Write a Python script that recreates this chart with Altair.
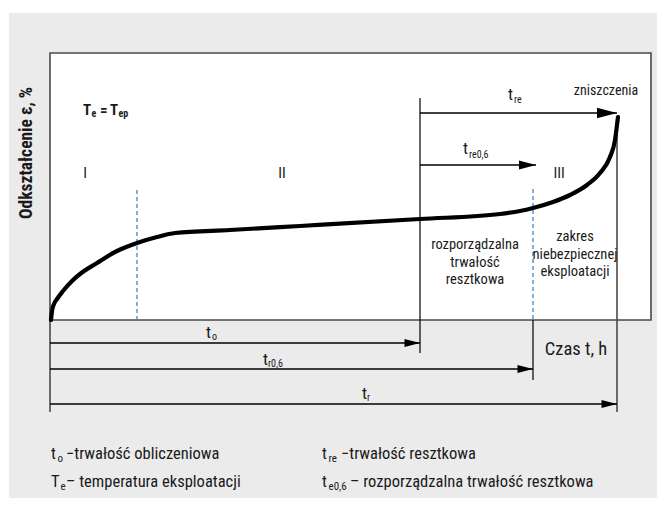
import altair as alt
import pandas as pd

# ---- diagram data (diagram units: x to the right, y downward) ----
curve_x = [51, 52, 54, 57, 63, 72, 80, 97, 117, 137, 157, 175, 230, 300, 420, 500,
           520, 533, 553, 570, 587, 600, 610, 615, 617, 618]
curve_y = [320, 311, 304, 299, 291, 281, 274, 263, 251, 243, 237, 233, 230, 226, 219, 214,
           211, 208, 202, 195, 185, 173, 157, 140, 125, 117]

panel_x = [9, 657]
panel_y = [13, 498]
box_x = [50, 651]
box_y = [53, 320]

# black thin verticals
vline_x = [420, 533]
vline_y1 = [98, 320]
vline_y2 = [353, 380]
# gray verticals (box edge extensions / failure line)
gline_x = [50, 617]
gline_y1 = [320, 118]
gline_y2 = [412, 412]
# blue dashed verticals
dline_x = [137, 533]
dline_y1 = [190, 189]
dline_y2 = [320, 320]

# arrows (start x, end x, y)
top_arrow_x1 = [420, 420]
top_arrow_x2 = [617, 536]
top_arrow_y = [113, 165]
bot_arrow_x1 = [50, 50, 50]
bot_arrow_x2 = [420, 533, 617]
bot_arrow_y = [343, 369, 404]

# labels
phase_txt = ["I", "II", "III"]
phase_x = [85, 282, 559]
phase_y = [178, 178, 178]

top_txt = ["zniszczenia"]
top_x = [606]
top_y = [95]

t_txt = ["t", "t", "t", "t", "t"]
t_x = [508, 463, 206, 263, 362]
t_y = [100, 154, 338, 365, 399]
tsub_txt = ["re", "re0,6", "o", "r0,6", "r"]
tsub_x = [514, 469, 212, 268, 367]
tsub_y = [103, 158, 340, 367, 401]

block_txt = ["rozporządzalna\ntrwałość\nresztkowa", "zakres\nniebezpiecznej\neksploatacji"]
block_x = [475, 575]
block_y = [249, 241]

axis_txt = ["Czas t, h"]
axis_x = [576]
axis_y = [355]

hdr_txt = ["T", "=", "T"]
hdr_x = [83, 100, 110]
hdr_y = [115, 115, 115]
hdrsub_txt = ["e", "ep"]
hdrsub_x = [91.5, 118.5]
hdrsub_y = [117, 117]

ytitle_txt = ["Odkształcenie ε, %"]
ytitle_x = [32]
ytitle_y = [153]

leg_txt = ["t", "−trwałość obliczeniowa", "t", "−trwałość resztkowa",
           "T", "– temperatura eksploatacji", "t", "– rozporządzalna trwałość resztkowa"]
leg_x = [51, 66, 322, 341, 51, 66, 322, 350]
leg_y = [459, 459, 459, 459, 487, 487, 487, 487]
legsub_txt = ["o", "re", "e", "e0,6"]
legsub_x = [57.5, 328.5, 60.5, 328.5]
legsub_y = [462, 462, 490, 490]

# ---- chart ----
W, H = 649, 490
FONT = "'Roboto Condensed', 'Liberation Sans Narrow', 'Arial Narrow', 'DejaVu Sans Condensed', Roboto, sans-serif"
INK = "#1a1a1a"
xs = alt.Scale(domain=[8, 8 + W], nice=False, zero=False)
ys = alt.Scale(domain=[8, 8 + H], reverse=True, nice=False, zero=False)


def X(f):
    return alt.X(f, type="quantitative", scale=xs, axis=None)


def Y(f):
    return alt.Y(f, type="quantitative", scale=ys, axis=None)


def rect(xv, yv, **kw):
    df = pd.DataFrame({"x1": [xv[0]], "x2": [xv[1]], "y1": [yv[0]], "y2": [yv[1]]})
    return alt.Chart(df).mark_rect(**kw).encode(x=X("x1"), x2="x2", y=Y("y1"), y2="y2")


def vrules(xv, y1, y2, **kw):
    df = pd.DataFrame({"x": xv, "y1": y1, "y2": y2})
    return alt.Chart(df).mark_rule(**kw).encode(x=X("x"), y=Y("y1"), y2="y2")


def hrules(x1, x2, yv, **kw):
    df = pd.DataFrame({"x1": x1, "x2": x2, "y": yv})
    return alt.Chart(df).mark_rule(**kw).encode(x=X("x1"), x2="x2", y=Y("y"))


HEAD = "M 0 0 L -1 -0.26 L -1 0.26 Z"


def heads(xv, yv, size):
    df = pd.DataFrame({"x": xv, "y": yv})
    return alt.Chart(df).mark_point(shape=HEAD, size=size, filled=True, color="black",
                                    opacity=1, strokeWidth=0).encode(x=X("x"), y=Y("y"))


def texts(tv, xv, yv, **kw):
    df = pd.DataFrame({"t": tv, "x": xv, "y": yv})
    base = dict(font=FONT, color=INK, baseline="alphabetic")
    base.update(kw)
    return alt.Chart(df).mark_text(**base).encode(x=X("x"), y=Y("y"), text="t:N")


curve = alt.Chart(pd.DataFrame({"x": curve_x, "y": curve_y})).mark_line(
    color="black", strokeWidth=4.2, interpolate="monotone", strokeCap="round"
).encode(x=X("x"), y=Y("y"), order="x:Q")

layers = [
    rect(panel_x, panel_y, color="#ebebeb"),
    rect(box_x, box_y, fill="white", stroke="#4a4a4a", strokeWidth=1.6),
    vrules(gline_x, gline_y1, gline_y2, color="#4a4a4a", strokeWidth=1.6),
    vrules(vline_x, vline_y1, vline_y2, color="black", strokeWidth=1.2),
    vrules(dline_x, dline_y1, dline_y2, color="#3d85c6", strokeWidth=1.3, strokeDash=[4, 3]),
    hrules(top_arrow_x1, top_arrow_x2, top_arrow_y, color="black", strokeWidth=1.6),
    hrules(bot_arrow_x1, bot_arrow_x2, bot_arrow_y, color="black", strokeWidth=1.6),
    heads(top_arrow_x2[:1], top_arrow_y[:1], 1600),
    heads(top_arrow_x2[1:], top_arrow_y[1:], 1160),
    heads(bot_arrow_x2, bot_arrow_y, 960),
    curve,
    texts(phase_txt, phase_x, phase_y, fontSize=15, align="center"),
    texts(top_txt, top_x, top_y, fontSize=14, align="center"),
    texts(t_txt, t_x, t_y, fontSize=17, align="left"),
    texts(tsub_txt, tsub_x, tsub_y, fontSize=10, align="left"),
    texts(block_txt, block_x, block_y, fontSize=14.5, align="center", lineBreak="\n", lineHeight=17.5),
    texts(axis_txt, axis_x, axis_y, fontSize=18.5, align="center"),
    texts(hdr_txt, hdr_x, hdr_y, fontSize=15, fontWeight="bold", align="left"),
    texts(hdrsub_txt, hdrsub_x, hdrsub_y, fontSize=10, fontWeight="bold", align="left"),
    texts(ytitle_txt, ytitle_x, ytitle_y, fontSize=17.5, fontWeight="bold", align="center", angle=270),
    texts(leg_txt, leg_x, leg_y, fontSize=16.5, align="left"),
    texts(legsub_txt, legsub_x, legsub_y, fontSize=11, align="left"),
]

chart = alt.layer(*layers).properties(
    width=W, height=H, autosize=alt.AutoSizeParams(type="none"), padding=0,
    background="white"
).configure_view(stroke=None)

chart.save("out.html", embed_options={"renderer": "svg", "actions": False})
